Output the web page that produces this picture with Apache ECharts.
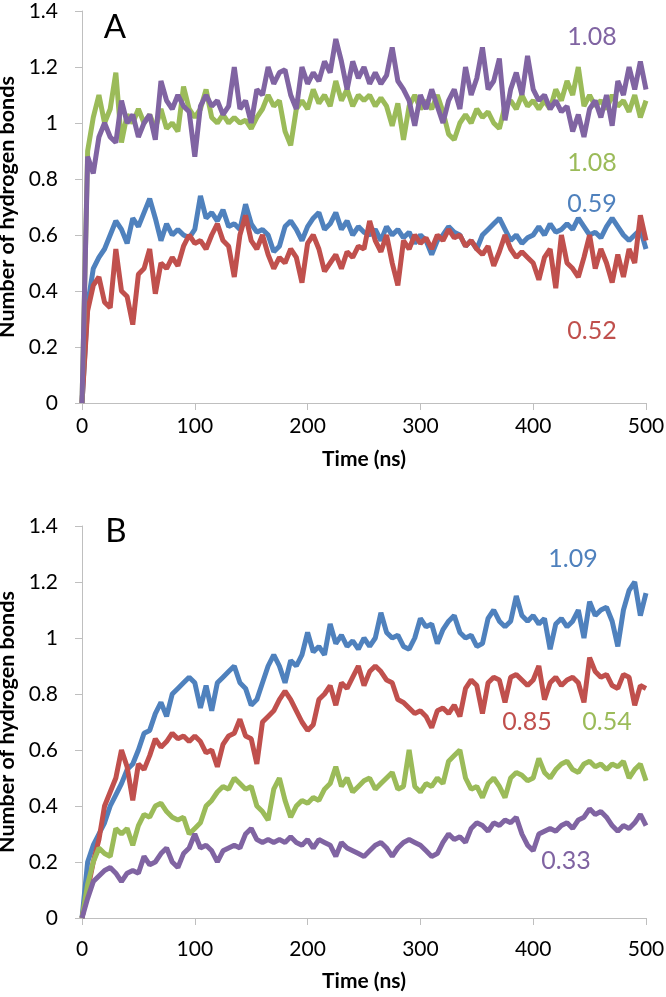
<!DOCTYPE html>
<html>
<head>
<meta charset="utf-8">
<script src="https://cdn.jsdelivr.net/npm/echarts@6/dist/echarts.min.js"></script>
<style>
    html, body { margin: 0; padding: 0; background: #fff; }
    #chart { width: 666px; height: 997px; }
</style>
</head>
<body>
<div id="chart"></div>
<script>
    // time points (ns)
    var timeNs = [0,5,10,15,20,25,30,35,40,45,50,55,60,65,70,75,80,85,90,95,
        100,105,110,115,120,125,130,135,140,145,150,155,160,165,170,175,180,185,190,195,
        200,205,210,215,220,225,230,235,240,245,250,255,260,265,270,275,280,285,290,295,
        300,305,310,315,320,325,330,335,340,345,350,355,360,365,370,375,380,385,390,395,
        400,405,410,415,420,425,430,435,440,445,450,455,460,465,470,475,480,485,490,495,500];

    // panel A
    var aBlue = [0,0.35,0.48,0.52,0.55,0.6,0.65,0.62,0.57,0.66,0.63,0.68,0.73,0.66,0.58,0.64,0.6,0.62,0.6,0.59,
        0.62,0.74,0.66,0.68,0.65,0.69,0.63,0.64,0.62,0.71,0.64,0.61,0.62,0.6,0.54,0.56,0.63,0.65,0.62,0.58,
        0.63,0.66,0.68,0.62,0.64,0.68,0.62,0.65,0.6,0.63,0.61,0.6,0.62,0.58,0.63,0.6,0.62,0.59,0.61,0.57,
        0.6,0.58,0.53,0.58,0.6,0.63,0.61,0.6,0.56,0.58,0.55,0.6,0.62,0.64,0.66,0.62,0.58,0.6,0.57,0.59,
        0.6,0.63,0.6,0.64,0.61,0.62,0.64,0.62,0.66,0.63,0.6,0.61,0.59,0.63,0.66,0.63,0.6,0.58,0.6,0.62,0.55];
    var aRed = [0,0.33,0.42,0.45,0.36,0.34,0.55,0.4,0.38,0.28,0.46,0.48,0.55,0.39,0.5,0.48,0.52,0.49,0.56,0.6,
        0.57,0.58,0.55,0.6,0.64,0.58,0.56,0.45,0.6,0.67,0.58,0.55,0.6,0.53,0.48,0.52,0.5,0.55,0.52,0.43,
        0.57,0.6,0.55,0.47,0.5,0.53,0.48,0.54,0.52,0.56,0.55,0.65,0.58,0.54,0.6,0.5,0.42,0.58,0.55,0.6,
        0.57,0.59,0.55,0.6,0.58,0.62,0.59,0.6,0.56,0.58,0.55,0.53,0.56,0.49,0.54,0.6,0.55,0.52,0.54,0.52,
        0.5,0.44,0.52,0.55,0.41,0.6,0.5,0.48,0.45,0.52,0.6,0.48,0.55,0.5,0.43,0.53,0.45,0.55,0.5,0.67,0.58];
    var aGreen = [0,0.9,1.02,1.1,1.0,1.05,1.18,0.93,1.03,1.0,1.05,1.0,1.03,0.98,1.05,0.98,1.0,0.97,1.13,1.05,
        1.02,1.05,1.12,1.02,1.0,1.03,1.0,1.02,1.0,1.01,0.98,1.02,1.05,1.1,1.06,1.08,0.97,0.92,1.05,1.08,
        1.05,1.12,1.07,1.1,1.06,1.15,1.08,1.12,1.06,1.1,1.08,1.1,1.06,1.09,1.06,0.99,1.07,0.94,1.06,1.1,
        1.05,1.08,1.05,1.1,1.04,0.96,0.94,1.0,1.03,1.0,1.05,1.02,1.04,1.0,0.98,1.06,1.08,1.05,1.1,1.06,
        1.08,1.05,1.08,1.05,1.12,1.08,1.15,1.1,1.2,1.06,1.1,1.06,1.08,1.05,1.1,1.06,1.08,1.04,1.1,1.02,1.08];
    var aPurple = [0,0.88,0.82,0.95,1.0,0.95,0.93,1.08,1.0,1.03,0.95,1.0,1.03,0.94,1.15,1.08,1.05,1.1,1.06,1.04,
        0.88,1.06,1.1,1.06,1.08,1.03,1.06,1.2,1.05,1.08,1.0,1.12,1.1,1.2,1.14,1.18,1.19,1.1,1.05,1.2,
        1.14,1.18,1.15,1.22,1.18,1.3,1.22,1.12,1.22,1.16,1.2,1.14,1.18,1.14,1.17,1.27,1.15,1.12,1.08,0.99,
        1.1,1.05,1.12,1.06,1.0,1.08,1.12,1.05,1.2,1.1,1.16,1.27,1.12,1.15,1.23,1.01,1.12,1.18,1.1,1.24,
        1.12,1.08,1.1,1.05,1.08,1.04,1.06,0.97,1.03,0.95,1.05,1.08,1.02,1.1,0.99,1.15,1.1,1.2,1.12,1.22,1.12];

    // panel B
    var bBlue = [0,0.2,0.26,0.3,0.34,0.4,0.44,0.48,0.53,0.55,0.6,0.66,0.67,0.73,0.77,0.72,0.8,0.82,0.84,0.86,
        0.84,0.75,0.83,0.74,0.84,0.86,0.88,0.9,0.84,0.82,0.76,0.78,0.84,0.9,0.94,0.9,0.84,0.92,0.9,0.94,
        1.02,0.95,0.97,0.94,1.05,0.98,1.01,0.97,0.99,0.96,1.0,0.97,1.0,1.09,1.02,1.0,1.01,0.97,0.96,1.0,
        1.07,1.04,1.05,0.98,1.03,1.06,1.08,1.02,1.0,1.01,0.97,0.98,1.07,1.1,1.06,1.04,1.06,1.15,1.08,1.06,
        1.08,1.05,1.07,0.96,1.05,1.07,1.04,1.06,1.1,1.0,1.13,1.08,1.1,1.11,1.06,0.97,1.1,1.17,1.2,1.08,1.16];
    var bRed = [0,0.1,0.2,0.28,0.4,0.45,0.5,0.6,0.54,0.42,0.55,0.53,0.58,0.64,0.61,0.63,0.66,0.64,0.65,0.63,
        0.65,0.63,0.59,0.6,0.54,0.62,0.65,0.66,0.71,0.65,0.64,0.55,0.7,0.72,0.74,0.78,0.81,0.78,0.74,0.7,
        0.67,0.69,0.78,0.8,0.83,0.76,0.84,0.82,0.86,0.9,0.83,0.88,0.9,0.88,0.85,0.84,0.78,0.77,0.75,0.73,
        0.74,0.72,0.68,0.74,0.75,0.73,0.76,0.72,0.82,0.85,0.83,0.73,0.84,0.86,0.85,0.77,0.86,0.87,0.85,0.83,
        0.85,0.9,0.78,0.84,0.86,0.83,0.85,0.86,0.84,0.77,0.93,0.88,0.86,0.87,0.83,0.82,0.87,0.86,0.76,0.83,0.82];
    var bGreen = [0,0.12,0.2,0.25,0.23,0.22,0.32,0.3,0.32,0.26,0.33,0.37,0.36,0.4,0.41,0.38,0.36,0.35,0.36,0.3,
        0.32,0.34,0.4,0.42,0.45,0.47,0.46,0.5,0.48,0.46,0.47,0.4,0.38,0.35,0.46,0.5,0.42,0.36,0.4,0.42,
        0.41,0.43,0.42,0.46,0.48,0.54,0.47,0.5,0.45,0.47,0.49,0.5,0.46,0.48,0.5,0.52,0.46,0.47,0.6,0.47,
        0.45,0.48,0.47,0.5,0.48,0.56,0.58,0.6,0.5,0.46,0.47,0.43,0.48,0.5,0.47,0.43,0.5,0.52,0.51,0.49,
        0.5,0.57,0.52,0.5,0.53,0.55,0.56,0.53,0.52,0.55,0.56,0.54,0.55,0.53,0.55,0.54,0.56,0.5,0.53,0.55,0.49];
    var bPurple = [0,0.07,0.13,0.15,0.17,0.18,0.16,0.13,0.16,0.17,0.16,0.22,0.19,0.2,0.23,0.25,0.2,0.18,0.23,0.25,
        0.3,0.25,0.26,0.24,0.2,0.24,0.25,0.26,0.25,0.3,0.32,0.28,0.27,0.28,0.27,0.28,0.27,0.29,0.27,0.26,
        0.28,0.25,0.28,0.27,0.26,0.22,0.27,0.25,0.24,0.23,0.22,0.24,0.26,0.27,0.25,0.22,0.25,0.27,0.28,0.27,
        0.26,0.24,0.22,0.23,0.27,0.3,0.28,0.29,0.27,0.32,0.34,0.33,0.31,0.34,0.33,0.35,0.34,0.36,0.3,0.26,
        0.24,0.3,0.31,0.32,0.31,0.33,0.34,0.32,0.35,0.36,0.39,0.37,0.38,0.36,0.33,0.31,0.33,0.32,0.34,0.37,0.33];

    // end-value labels
    var labelsA = ['1.08', '1.08', '0.59', '0.52'];   // purple, green, blue, red
    var labelsB = ['1.09', '0.85', '0.54', '0.33'];   // blue, red, green, purple

    var C_BLUE = '#4F81BD', C_RED = '#C0504D', C_GREEN = '#9BBB59', C_PURPLE = '#8064A2';
    var FONT = 'Lato, "Open Sans", sans-serif';

    function pairs(vals) {
        return timeNs.map(function (t, i) { return [t, vals[i]]; });
    }
    function xAx(gi, labelMargin, gap) {
        return {
            type: 'value', gridIndex: gi, min: 0, max: 500, interval: 100,
            name: 'Time (ns)', nameLocation: 'middle', nameGap: gap,
            nameTextStyle: { fontFamily: FONT, fontWeight: 'bold', fontSize: 21, color: '#000' },
            axisLine: { show: true, lineStyle: { color: '#BFBFBF', width: 1 } },
            axisTick: { show: true, length: 7, lineStyle: { color: '#BFBFBF' } },
            axisLabel: { fontFamily: FONT, fontSize: 21, color: '#000', margin: labelMargin },
            splitLine: { show: false }
        };
    }
    function yAx(gi) {
        return {
            type: 'value', gridIndex: gi, min: 0, max: 1.4, interval: 0.2,
            name: 'Number of hydrogen bonds', nameLocation: 'middle', nameGap: 60,
            nameTextStyle: { fontFamily: FONT, fontWeight: 'bold', fontSize: 21.5, color: '#000' },
            axisLine: { show: true, lineStyle: { color: '#BFBFBF', width: 1 } },
            axisTick: { show: true, length: 7, lineStyle: { color: '#BFBFBF' } },
            axisLabel: { fontFamily: FONT, fontSize: 21, color: '#000', margin: 24 },
            splitLine: { show: false }
        };
    }
    function line(name, vals, color, gi) {
        return {
            name: name, type: 'line', xAxisIndex: gi, yAxisIndex: gi,
            data: pairs(vals), showSymbol: false, symbol: 'none',
            lineStyle: { color: color, width: 5 }, itemStyle: { color: color },
            silent: true
        };
    }
    function txt(s, x, y, color, size) {
        return {
            type: 'text', x: x, y: y,
            style: { text: s, fill: color, font: size + 'px ' + FONT, textAlign: 'center', textVerticalAlign: 'middle' }
        };
    }

    var myChart = echarts.init(document.getElementById('chart'));
    myChart.setOption({
        animation: false,
        backgroundColor: '#fff',
        grid: [
            { left: 82, right: 20, top: 11, height: 392, containLabel: false, outerBoundsMode: 'none' },
            { left: 82, right: 20, top: 526, height: 392, containLabel: false, outerBoundsMode: 'none' }
        ],
        xAxis: [xAx(0, 13, 46), xAx(1, 21, 53)],
        yAxis: [yAx(0), yAx(1)],
        series: [
            line('A blue', aBlue, C_BLUE, 0),
            line('A red', aRed, C_RED, 0),
            line('A green', aGreen, C_GREEN, 0),
            line('A purple', aPurple, C_PURPLE, 0),
            line('B blue', bBlue, C_BLUE, 1),
            line('B red', bRed, C_RED, 1),
            line('B green', bGreen, C_GREEN, 1),
            line('B purple', bPurple, C_PURPLE, 1)
        ],
        graphic: [
            txt('A', 115, 27, '#000', 33),
            txt('B', 116, 531, '#000', 33),
            txt(labelsA[0], 592, 37, C_PURPLE, 25),
            txt(labelsA[1], 592, 163, C_GREEN, 25),
            txt(labelsA[2], 592, 204, C_BLUE, 25),
            txt(labelsA[3], 592, 331, C_RED, 25),
            txt(labelsB[0], 573, 559, C_BLUE, 25),
            txt(labelsB[1], 527, 722, C_RED, 25),
            txt(labelsB[2], 607, 722, C_GREEN, 25),
            txt(labelsB[3], 566, 861, C_PURPLE, 25)
        ]
    });
    window.addEventListener('resize', function () { myChart.resize(); });
</script>
</body>
</html>
